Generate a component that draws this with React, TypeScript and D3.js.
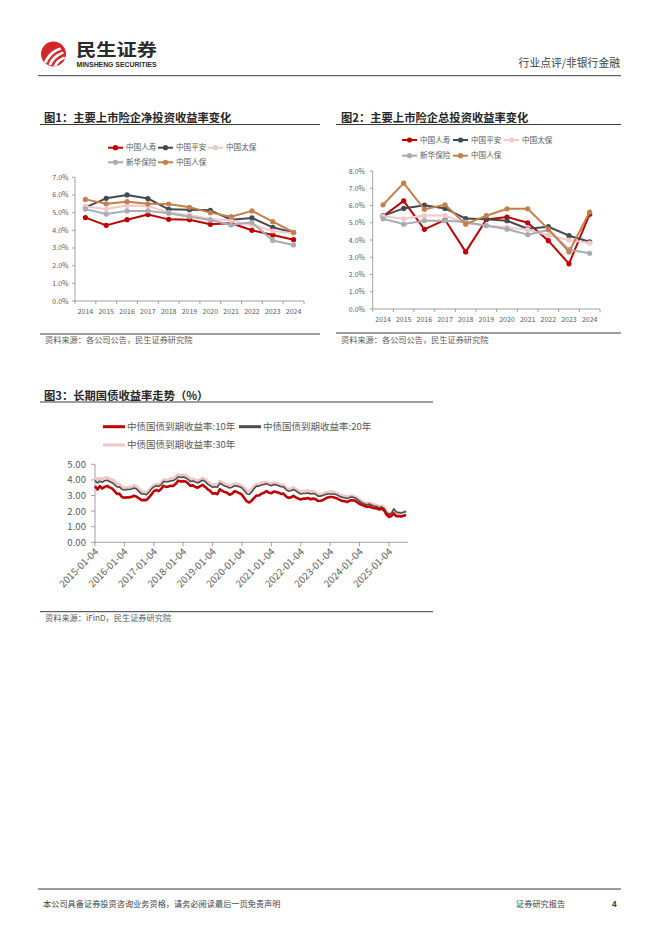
import React from 'react';
import * as d3 from 'd3';

const FONT = '"Noto Sans CJK SC", "Noto Sans", sans-serif';

// ---------- Figure 1 & 2 data ----------
const years = ['2014', '2015', '2016', '2017', '2018', '2019', '2020', '2021', '2022', '2023', '2024'];
const insurers = ['中国人寿', '中国平安', '中国太保', '新华保险', '中国人保'];
const insurerColors = ['#C00000', '#434A50', '#F2C8C8', '#A6ACB2', '#C47F4A'];

// 净投资收益率 (%)
const netChinaLife = [4.72, 4.28, 4.6, 4.89, 4.62, 4.6, 4.34, 4.4, 4.0, 3.74, 3.47];
const netPingAn = [5.3, 5.81, 6.0, 5.8, 5.19, 5.17, 5.13, 4.6, 4.7, 4.17, 3.87];
const netCPIC = [5.35, 5.2, 5.4, 5.38, 5.0, 4.87, 4.64, 4.55, 4.3, 3.96, 3.83];
const netNCI = [5.2, 4.92, 5.1, 5.1, 4.96, 4.77, 4.58, 4.3, 4.45, 3.42, 3.17];
const netPICC = [5.75, 5.5, 5.62, 5.5, 5.49, 5.3, 5.0, 4.77, 5.1, 4.49, 3.89];

// 总投资收益率 (%)
const totChinaLife = [5.38, 6.27, 4.62, 5.17, 3.31, 5.19, 5.33, 5.0, 3.96, 2.62, 5.5];
const totPingAn = [5.4, 5.83, 6.02, 5.83, 5.24, 5.21, 5.12, 4.65, 4.77, 4.25, 3.9];
const totCPIC = [5.37, 5.23, 5.42, 5.42, 4.96, 4.85, 4.73, 4.6, 4.27, 4.0, 3.82];
const totNCI = [5.23, 4.92, 5.12, 5.12, 5.04, 4.83, 4.63, 4.31, 4.58, 3.44, 3.23];
const totPICC = [6.04, 7.3, 5.78, 6.04, 4.92, 5.41, 5.81, 5.81, 4.63, 3.31, 5.62];

const netSeries = [netChinaLife, netPingAn, netCPIC, netNCI, netPICC];
const totSeries = [totChinaLife, totPingAn, totCPIC, totNCI, totPICC];
const pctTicks1 = [0, 1, 2, 3, 4, 5, 6, 7];
const pctTicks2 = [0, 1, 2, 3, 4, 5, 6, 7, 8];

// ---------- Figure 3 data (monthly, from 2015-01-04) ----------
const bondStart = '2015-01-04';
const bondNames = ['中债国债到期收益率:10年', '中债国债到期收益率:20年', '中债国债到期收益率:30年'];
const bondColors = ['#C00000', '#4D4D4D', '#F0C6C6'];
const y10 = [
  3.6, 3.38, 3.6, 3.45, 3.55, 3.62, 3.52, 3.45, 3.28, 3.1, 3.12, 2.9,
  2.85, 2.88, 2.88, 2.92, 2.98, 2.92, 2.82, 2.7, 2.72, 2.7, 2.88, 3.05,
  3.28, 3.35, 3.28, 3.42, 3.62, 3.55, 3.58, 3.62, 3.62, 3.75, 3.95, 3.9,
  3.92, 3.9, 3.78, 3.62, 3.65, 3.55, 3.5, 3.6, 3.68, 3.55, 3.4, 3.3,
  3.12, 3.15, 3.08, 3.4, 3.3, 3.22, 3.18, 3.05, 3.12, 3.28, 3.22, 3.15,
  3.05, 2.82, 2.62, 2.55, 2.68, 2.85, 3.0, 3.0, 3.12, 3.18, 3.28, 3.18,
  3.15, 3.25, 3.22, 3.18, 3.1, 3.12, 2.95, 2.85, 2.88, 2.98, 2.88, 2.8,
  2.75, 2.8, 2.8, 2.84, 2.76, 2.8, 2.78, 2.65, 2.66, 2.7, 2.8, 2.87,
  2.9, 2.9, 2.86, 2.8, 2.72, 2.65, 2.64, 2.58, 2.68, 2.7, 2.68, 2.58,
  2.46, 2.4, 2.32, 2.28, 2.3, 2.23, 2.18, 2.18, 2.1, 2.15, 2.05, 1.78,
  1.62, 1.7, 1.85, 1.68, 1.68, 1.65, 1.7, 1.75,
];
const y20 = [
  3.95, 3.8, 3.92, 3.85, 3.95, 3.98, 3.9, 3.82, 3.7, 3.55, 3.55, 3.4,
  3.35, 3.38, 3.38, 3.42, 3.48, 3.42, 3.25, 3.1, 3.1, 3.05, 3.2, 3.4,
  3.55, 3.62, 3.58, 3.68, 3.9, 3.88, 3.88, 3.95, 3.95, 4.05, 4.2, 4.16,
  4.18, 4.13, 4.03, 3.9, 3.93, 3.86, 3.8, 3.9, 3.98, 3.9, 3.73, 3.63,
  3.53, 3.56, 3.53, 3.78, 3.7, 3.6, 3.56, 3.48, 3.53, 3.63, 3.6, 3.56,
  3.48, 3.3, 3.12, 3.06, 3.22, 3.45, 3.6, 3.6, 3.68, 3.7, 3.76, 3.68,
  3.63, 3.7, 3.68, 3.63, 3.56, 3.56, 3.38, 3.28, 3.3, 3.38, 3.3, 3.18,
  3.1, 3.13, 3.13, 3.16, 3.1, 3.13, 3.1, 2.96, 2.96, 3.0, 3.06, 3.1,
  3.1, 3.1, 3.08, 3.03, 2.93, 2.88, 2.86, 2.8, 2.88, 2.9, 2.86, 2.76,
  2.63, 2.53, 2.46, 2.4, 2.46, 2.38, 2.33, 2.3, 2.2, 2.26, 2.16, 1.9,
  1.8, 1.86, 2.15, 1.94, 1.9, 1.88, 1.92, 1.98,
];
const y30 = [
  4.15, 4.0, 4.1, 4.05, 4.12, 4.15, 4.08, 4.0, 3.9, 3.75, 3.72, 3.55,
  3.48, 3.5, 3.5, 3.55, 3.62, 3.58, 3.4, 3.25, 3.22, 3.15, 3.3, 3.5,
  3.65, 3.72, 3.68, 3.8, 4.0, 3.98, 4.0, 4.08, 4.08, 4.2, 4.33, 4.3,
  4.32, 4.27, 4.18, 4.03, 4.06, 3.98, 3.93, 4.03, 4.1, 4.03, 3.86, 3.76,
  3.66, 3.7, 3.68, 3.9, 3.83, 3.73, 3.68, 3.6, 3.68, 3.76, 3.73, 3.7,
  3.6, 3.46, 3.3, 3.26, 3.4, 3.6, 3.72, 3.72, 3.8, 3.83, 3.86, 3.78,
  3.73, 3.8, 3.78, 3.73, 3.66, 3.66, 3.48, 3.4, 3.43, 3.5, 3.4, 3.3,
  3.23, 3.26, 3.28, 3.3, 3.23, 3.26, 3.2, 3.06, 3.06, 3.1, 3.16, 3.2,
  3.23, 3.23, 3.2, 3.13, 3.03, 2.98, 2.96, 2.9, 2.96, 2.98, 2.93, 2.83,
  2.72, 2.62, 2.53, 2.46, 2.53, 2.46, 2.4, 2.38, 2.26, 2.33, 2.23, 1.94,
  1.84, 1.86, 2.02, 1.95, 1.9, 1.88, 1.92, 2.02,
];
const bondSeries = [y10, y20, y30];
const bondYTicks = [0, 1, 2, 3, 4, 5];
const bondXTickYears = [2015, 2016, 2017, 2018, 2019, 2020, 2021, 2022, 2023, 2024, 2025];

const TXT = '#595959';
const AX = '#8C8C8C';

type LineChartProps = {
  left: number; right: number; y0: number; yTop: number; maxV: number;
  ticks: number[]; series: number[][]; labelRight: number; xLabelY: number;
  legendX: number; legendY1: number; legendY2: number; legendStep: number;
};

function InsurerChart(p: LineChartProps) {
  const x = d3.scaleBand<string>().domain(years).range([p.left, p.right]).padding(0);
  const y = d3.scaleLinear().domain([0, p.maxV]).range([p.y0, p.yTop]);
  const line = d3.line<number>().x((_, i) => (x(years[i]) as number) + x.bandwidth() / 2).y((d) => y(d));
  const boundaries = years.map((yr) => x(yr) as number).concat([p.right]);
  const legendPos = [
    [p.legendX, p.legendY1], [p.legendX + p.legendStep, p.legendY1], [p.legendX + 2 * p.legendStep, p.legendY1],
    [p.legendX, p.legendY2], [p.legendX + p.legendStep, p.legendY2],
  ];
  return (
    <g>
      {/* legend */}
      {insurers.map((name, i) => {
        const [lx, ly] = legendPos[i];
        return (
          <g key={name}>
            <line x1={lx} x2={lx + 15} y1={ly} y2={ly} stroke={insurerColors[i]} strokeWidth={2} />
            <circle cx={lx + 7.5} cy={ly} r={2.6} fill={insurerColors[i]} />
            <text x={lx + 18} y={ly + 2.7} fontSize={7.6} fill={TXT} fontFamily={FONT}>{name}</text>
          </g>
        );
      })}
      {/* y axis */}
      <line x1={p.left} x2={p.left} y1={p.y0} y2={y(p.maxV)} stroke={AX} strokeWidth={0.8} />
      {p.ticks.map((t) => (
        <g key={t}>
          <line x1={p.left - 3} x2={p.left} y1={y(t)} y2={y(t)} stroke={AX} strokeWidth={0.8} />
          <text x={p.labelRight} y={y(t) + 2.5} fontSize={7} fill={TXT} textAnchor="end" fontFamily={FONT}>
            {t.toFixed(1)}%
          </text>
        </g>
      ))}
      {/* x axis */}
      <line x1={p.left} x2={p.right} y1={p.y0} y2={p.y0} stroke={AX} strokeWidth={0.8} />
      {boundaries.map((b, i) => (
        <line key={i} x1={b} x2={b} y1={p.y0} y2={p.y0 + 3} stroke={AX} strokeWidth={0.8} />
      ))}
      {years.map((yr) => (
        <text key={yr} x={(x(yr) as number) + x.bandwidth() / 2} y={p.xLabelY} fontSize={7} fill={TXT}
          textAnchor="middle" fontFamily={FONT}>{yr}</text>
      ))}
      {/* series */}
      {p.series.map((s, i) => (
        <g key={i}>
          <path d={line(s) as string} fill="none" stroke={insurerColors[i]} strokeWidth={2} strokeLinejoin="round" />
          {s.map((v, j) => (
            <circle key={j} cx={(x(years[j]) as number) + x.bandwidth() / 2} cy={y(v)} r={2.6} fill={insurerColors[i]} />
          ))}
        </g>
      ))}
    </g>
  );
}

function BondChart() {
  const start = new Date(bondStart + 'T00:00:00');
  const dates = y10.map((_, i) => d3.timeMonth.offset(start, i));
  const left = 95;
  const perYear = 29.4;
  const x = d3.scaleTime()
    .domain([start, new Date('2025-01-04T00:00:00')])
    .range([left, left + perYear * 10]);
  const right = x(dates[dates.length - 1]) + 2;
  const y = d3.scaleLinear().domain([0, 5]).range([542.3, 464.3]);
  const drawOrder = [2, 1, 0];
  const widths = [2.6, 1.6, 3.2];
  return (
    <g>
      {/* legend */}
      {[[103, 426.7], [239, 426.7], [103, 445]].map(([lx, ly], i) => (
        <g key={i}>
          <line x1={lx} x2={lx + 22} y1={ly} y2={ly} stroke={bondColors[i]} strokeWidth={3} />
          <text x={lx + 24} y={ly + 3.3} fontSize={9.5} fill={TXT} fontFamily={FONT}>{bondNames[i]}</text>
        </g>
      ))}
      {/* y axis */}
      <line x1={left} x2={left} y1={y(0)} y2={y(5)} stroke={AX} strokeWidth={0.8} />
      {bondYTicks.map((t) => (
        <g key={t}>
          <line x1={left - 4} x2={left} y1={y(t)} y2={y(t)} stroke={AX} strokeWidth={0.8} />
          <text x={86} y={y(t) + 3.4} fontSize={9.6} fill={TXT} textAnchor="end" fontFamily={FONT}>{t.toFixed(2)}</text>
        </g>
      ))}
      {/* x axis */}
      <line x1={left} x2={right} y1={y(0)} y2={y(0)} stroke={AX} strokeWidth={0.8} />
      {bondXTickYears.map((yr) => {
        const tx = x(new Date(`${yr}-01-04T00:00:00`));
        return (
          <g key={yr}>
            <line x1={tx} x2={tx} y1={y(0)} y2={y(0) + 4} stroke={AX} strokeWidth={0.8} />
            <text transform={`translate(${tx + 4},${y(0) + 10}) rotate(-45)`} fontSize={9.8} fill={TXT}
              textAnchor="end" fontFamily={FONT}>{`${yr}-01-04`}</text>
          </g>
        );
      })}
      {drawOrder.map((k) => {
        const line = d3.line<number>().x((_, i) => x(dates[i])).y((d) => y(d));
        return (
          <path key={k} d={line(bondSeries[k]) as string} fill="none" stroke={bondColors[k]}
            strokeWidth={widths[k]} strokeLinejoin="round" />
        );
      })}
    </g>
  );
}

function Logo() {
  return (
    <g>
      <circle cx={53.5} cy={54} r={12.5} fill="#D3262A" />
      <path d="M44,62 C47,55 52,50 60,47.5 L61.5,49.5 C54,52 49.5,56.5 46.5,63.5 Z" fill="#fff" />
      <path d="M48.5,64.5 C51,58 55.5,54 62.5,51.5 L64,53.5 C57.5,56 53.5,60 51.2,65.5 Z" fill="#fff" />
      <path d="M53.5,66 C55.5,61.5 58.5,58.5 64.5,56.5 L65,58.8 C60.5,60.5 58,63 56.5,66.3 Z" fill="#fff" />
      <text x={76} y={55.8} fontSize={17} fontWeight={700} fill="#2B2B2B" fontFamily={FONT}
        textLength={81} lengthAdjust="spacingAndGlyphs">民生证券</text>
      <text x={76.5} y={66.8} fontSize={6.3} fontWeight={700} fill="#2B2B2B" fontFamily='"Liberation Sans", Arial, sans-serif'
        textLength={80} lengthAdjust="spacingAndGlyphs">MINSHENG SECURITIES</text>
    </g>
  );
}

export default function App() {
  return (
    <svg width={662} height={936} viewBox="0 0 662 936"
      style={{ position: 'absolute', left: 0, top: 0, background: '#fff' }} fontFamily={FONT}>
      <rect x={0} y={0} width={662} height={936} fill="#fff" />
      <Logo />
      <text x={620} y={67} fontSize={10.8} fill="#404040" textAnchor="end">行业点评/非银行金融</text>
      <line x1={38} x2={621} y1={75.7} y2={75.7} stroke="#3A3A3A" strokeWidth={1} />

      {/* Figure 1 */}
      <text x={44} y={121.5} fontSize={11.3} fontWeight={700} fill="#262626">图1：主要上市险企净投资收益率变化</text>
      <line x1={40} x2={320} y1={124.5} y2={124.5} stroke="#3A3A3A" strokeWidth={1} />
      <InsurerChart left={75} right={304} y0={301} yTop={177.3} maxV={7} ticks={pctTicks1} series={netSeries}
        labelRight={68.5} xLabelY={313.5} legendX={108} legendY1={147.7} legendY2={162.3} legendStep={50} />
      <line x1={40} x2={320} y1={334} y2={334} stroke="#3A3A3A" strokeWidth={1} />
      <text x={45} y={343} fontSize={8.2} fill={TXT}>资料来源：各公司公告，民生证券研究院</text>

      {/* Figure 2 */}
      <text x={341} y={121.5} fontSize={11.3} fontWeight={700} fill="#262626">图2：主要上市险企总投资收益率变化</text>
      <line x1={336} x2={621} y1={124.5} y2={124.5} stroke="#3A3A3A" strokeWidth={1} />
      <InsurerChart left={372.7} right={600} y0={309} yTop={171} maxV={8} ticks={pctTicks2} series={totSeries}
        labelRight={365} xLabelY={321.5} legendX={402} legendY1={140} legendY2={155.7} legendStep={51} />
      <line x1={336} x2={621} y1={333} y2={333} stroke="#3A3A3A" strokeWidth={1} />
      <text x={341} y={343} fontSize={8.2} fill={TXT}>资料来源：各公司公告，民生证券研究院</text>

      {/* Figure 3 */}
      <text x={44} y={399.5} fontSize={11.3} fontWeight={700} fill="#262626">图3：长期国债收益率走势（%）</text>
      <line x1={40} x2={433} y1={402} y2={402} stroke="#3A3A3A" strokeWidth={1} />
      <BondChart />
      <line x1={40} x2={433} y1={611.7} y2={611.7} stroke="#3A3A3A" strokeWidth={1} />
      <text x={45} y={621.3} fontSize={8.2} fill={TXT}>资料来源：iFinD，民生证券研究院</text>

      {/* footer */}
      <line x1={38} x2={621} y1={889} y2={889} stroke="#3A3A3A" strokeWidth={1} />
      <text x={43} y={907} fontSize={8.2} fill="#404040">本公司具备证券投资咨询业务资格，请务必阅读最后一页免责声明</text>
      <text x={516} y={907} fontSize={8.2} fill="#404040">证券研究报告</text>
      <text x={612} y={907} fontSize={8.2} fontWeight={700} fill="#404040">4</text>
    </svg>
  );
}
